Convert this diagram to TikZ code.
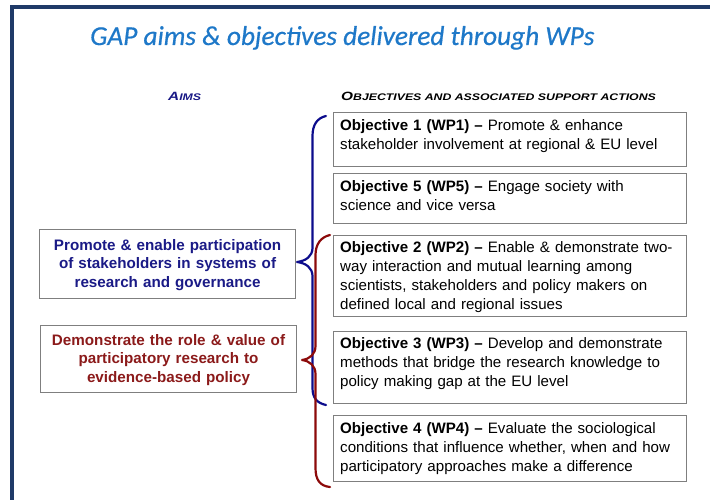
\documentclass[tikz,border=0pt]{standalone}
\usepackage{graphicx}
\usepackage{fontspec}
\setmainfont{Liberation Sans}
\newfontfamily\titlefont{Carlito}
\definecolor{framenavy}{HTML}{1F3A68}
\definecolor{titleblue}{HTML}{1E78C8}
\definecolor{aimblue}{HTML}{1A1A86}
\definecolor{aimred}{HTML}{8B1A1A}
\definecolor{braceblue}{HTML}{0C0C8C}
\definecolor{bracered}{HTML}{8C0A0A}
\definecolor{boxgray}{HTML}{7F7F7F}
\begin{document}
\begin{tikzpicture}[x=1pt,y=-1pt,
  cardbox/.style={draw=boxgray, line width=1.1pt, inner sep=0pt, anchor=north west},
  objtext/.style={anchor=north west, inner sep=0pt, text width=345pt, align=left,
    font=\fontsize{15.1}{18.8}\selectfont},
  aimtext/.style={inner sep=0pt, text width=254pt, align=center,
    font=\fontsize{15.2}{18.4}\selectfont\bfseries},
  headtext/.style={anchor=base west, inner sep=0pt, font=\bfseries\itshape},
  bracepath/.style={line width=2.2pt, line cap=round, line join=round}]
\useasboundingbox (0,0) rectangle (710,500);

% page frame
\draw[framenavy, line width=4pt] (12,500) -- (12,7.5) -- (710,7.5);

% title
\node[anchor=base west, inner sep=0pt, text=titleblue,
  font=\titlefont\itshape\addfontfeatures{FakeBold=0.6}\fontsize{27.3}{30}\selectfont] (title) at (90,45)
  {GAP aims \& objectives delivered through WPs};

% column headings (wide small caps)
\node[headtext, text=aimblue] (hAims) at (168,101)
  {\scalebox{1.28}[1]{\fontsize{12}{14}\selectfont A\fontsize{9.6}{12}\selectfont IMS}};
\node[headtext, text=black] (hObj) at (341,101)
  {\scalebox{1.28}[1]{\fontsize{12}{14}\selectfont O\fontsize{9.6}{12}\selectfont BJECTIVES AND ASSOCIATED SUPPORT ACTIONS}};

% aim boxes
\node[cardbox, minimum width=256pt, minimum height=69pt] (a1) at (39,229) {};
\node[aimtext, text=aimblue] (a1t) at ([yshift=-1]a1.center)
  {Promote \& enable participation\\ of stakeholders in systems of\\ research and governance};
\node[cardbox, minimum width=256pt, minimum height=67pt] (a2) at (40,325) {};
\node[aimtext, text=aimred] (a2t) at ([yshift=-1]a2.center)
  {Demonstrate the role \& value of\\ participatory research to\\ evidence-based policy};

% objective boxes
\node[cardbox, minimum width=353pt, minimum height=54pt] (o1) at (333,112) {};
\node[cardbox, minimum width=353pt, minimum height=50pt] (o5) at (333,173) {};
\node[cardbox, minimum width=353pt, minimum height=81pt] (o2) at (333,235) {};
\node[cardbox, minimum width=353pt, minimum height=72pt] (o3) at (333,331) {};
\node[cardbox, minimum width=353pt, minimum height=66pt] (o4) at (333,415) {};

\node[objtext] (o1t) at ([shift={(7,7.5)}]o1.north west)
  {\textbf{Objective 1 (WP1) –} Promote \& enhance\\ stakeholder involvement at regional \& EU level};
\node[objtext] (o5t) at ([shift={(7,7.5)}]o5.north west)
  {\textbf{Objective 5 (WP5) –} Engage society with\\ science and vice versa};
\node[objtext] (o2t) at ([shift={(7,6.5)}]o2.north west)
  {\textbf{Objective 2 (WP2) –} Enable \& demonstrate two-\\way interaction and mutual learning among\\ scientists, stakeholders and policy makers on\\ defined local and regional issues};
\node[objtext] (o3t) at ([shift={(7,6.5)}]o3.north west)
  {\textbf{Objective 3 (WP3) –} Develop and demonstrate\\ methods that bridge the research knowledge to\\ policy making gap at the EU level};
\node[objtext] (o4t) at ([shift={(7,7.5)}]o4.north west)
  {\textbf{Objective 4 (WP4) –} Evaluate the sociological\\ conditions that influence whether, when and how\\ participatory approaches make a difference};

% brace grouping objectives 1, 5, 2, 3 under the first aim
\draw[bracepath, braceblue]
  (326,116) .. controls (317,118) and (312.5,125) .. (312.5,136)
  -- (312.5,248)
  .. controls (312.5,256) and (306,261) .. (297,262)
  .. controls (306,263) and (312.5,268) .. (312.5,276)
  -- (312.5,388)
  .. controls (312.5,398) and (317,403) .. (326,405);

% brace grouping objectives 2, 3, 4 under the second aim
\draw[bracepath, bracered]
  (330,235) .. controls (321,237) and (315.5,244) .. (315.5,255)
  -- (315.5,346)
  .. controls (315.5,354) and (310,359) .. (302,360)
  .. controls (310,361) and (315.5,366) .. (315.5,374)
  -- (315.5,468)
  .. controls (315.5,480) and (320,486) .. (330,487);
\end{tikzpicture}
\end{document}
